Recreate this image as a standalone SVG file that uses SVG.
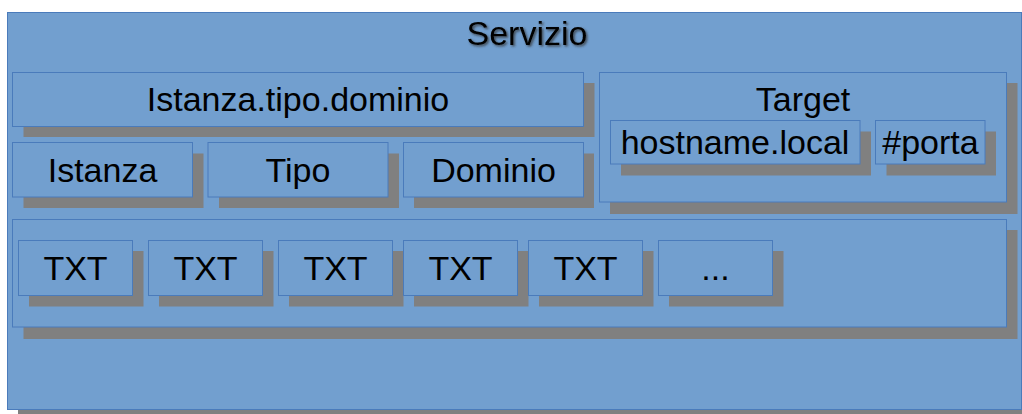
<svg xmlns="http://www.w3.org/2000/svg" width="1022" height="414" viewBox="0 0 1022 414">
<defs>
<style>
.box{fill:#729fcf;stroke:#4a7bbb;stroke-width:1}
.sh{fill:#808080}
.t{font-family:"Liberation Sans",Arial,sans-serif;font-size:34px;fill:#000;text-anchor:middle}
</style>
<filter id="tsh" x="-10%" y="-20%" width="130%" height="150%">
<feDropShadow dx="1.5" dy="1.5" stdDeviation="0.8" flood-color="#333" flood-opacity="0.8"/>
</filter>
</defs>
<rect width="1022" height="414" fill="#fff"/>
<g id="servizio">
<rect class="sh" x="18" y="23" width="1014" height="397"/>
<rect class="box" x="7.5" y="12.5" width="1014" height="397"/>
<text class="t" x="527" y="45" filter="url(#tsh)">Servizio</text>
</g>
<g id="istanza-tipo-dominio">
<rect class="sh" x="23.5" y="83" width="571" height="54"/>
<rect class="box" x="12.5" y="72.5" width="571" height="54"/>
<text class="t" x="298" y="111">Istanza.tipo.dominio</text>
</g>
<g id="istanza">
<rect class="sh" x="23.5" y="153.5" width="180" height="54.5"/>
<rect class="box" x="12.5" y="142.5" width="180" height="54.5"/>
<text class="t" x="102.5" y="181.5">Istanza</text>
</g>
<g id="tipo">
<rect class="sh" x="219" y="153.5" width="180" height="54.5"/>
<rect class="box" x="208" y="142.5" width="180" height="54.5"/>
<text class="t" x="298" y="181.5">Tipo</text>
</g>
<g id="dominio">
<rect class="sh" x="414" y="153.5" width="180" height="54.5"/>
<rect class="box" x="403.5" y="142.5" width="180" height="54.5"/>
<text class="t" x="493.5" y="181.5">Dominio</text>
</g>
<g id="target">
<rect class="sh" x="610" y="83" width="407.5" height="131"/>
<rect class="box" x="599.5" y="72.5" width="407" height="129.5"/>
<text class="t" x="803" y="110.5">Target</text>
</g>
<g id="hostname">
<rect class="sh" x="621" y="131.5" width="250" height="44"/>
<rect class="box" x="610.5" y="120.5" width="249.5" height="43.5"/>
<text class="t" x="735" y="153.5">hostname.local</text>
</g>
<g id="porta">
<rect class="sh" x="886.5" y="131.5" width="109.5" height="44"/>
<rect class="box" x="875.5" y="120.5" width="109.5" height="43.5"/>
<text class="t" x="930.5" y="153.5">#porta</text>
</g>
<g id="txt-row">
<rect class="sh" x="23.5" y="230" width="994" height="109"/>
<rect class="box" x="12.5" y="219.5" width="994" height="107.5"/>
</g>
<g id="txt1">
<rect class="sh" x="29" y="251" width="114.5" height="55.5"/>
<rect class="box" x="18.5" y="240.5" width="114" height="55"/>
<text class="t" x="75.5" y="280">TXT</text>
</g>
<g id="txt2">
<rect class="sh" x="159" y="251" width="114.5" height="55.5"/>
<rect class="box" x="148.5" y="240.5" width="114" height="55"/>
<text class="t" x="205.5" y="280">TXT</text>
</g>
<g id="txt3">
<rect class="sh" x="289" y="251" width="114.5" height="55.5"/>
<rect class="box" x="278.5" y="240.5" width="114" height="55"/>
<text class="t" x="335.5" y="280">TXT</text>
</g>
<g id="txt4">
<rect class="sh" x="414" y="251" width="114.5" height="55.5"/>
<rect class="box" x="403.5" y="240.5" width="114" height="55"/>
<text class="t" x="460.5" y="280">TXT</text>
</g>
<g id="txt5">
<rect class="sh" x="539" y="251" width="114.5" height="55.5"/>
<rect class="box" x="528.5" y="240.5" width="114" height="55"/>
<text class="t" x="585.5" y="280">TXT</text>
</g>
<g id="txt-more">
<rect class="sh" x="669" y="251" width="114.5" height="55.5"/>
<rect class="box" x="658.5" y="240.5" width="114" height="55"/>
<text class="t" x="715.5" y="280">...</text>
</g>
<g id="connectors"></g>
</svg>
